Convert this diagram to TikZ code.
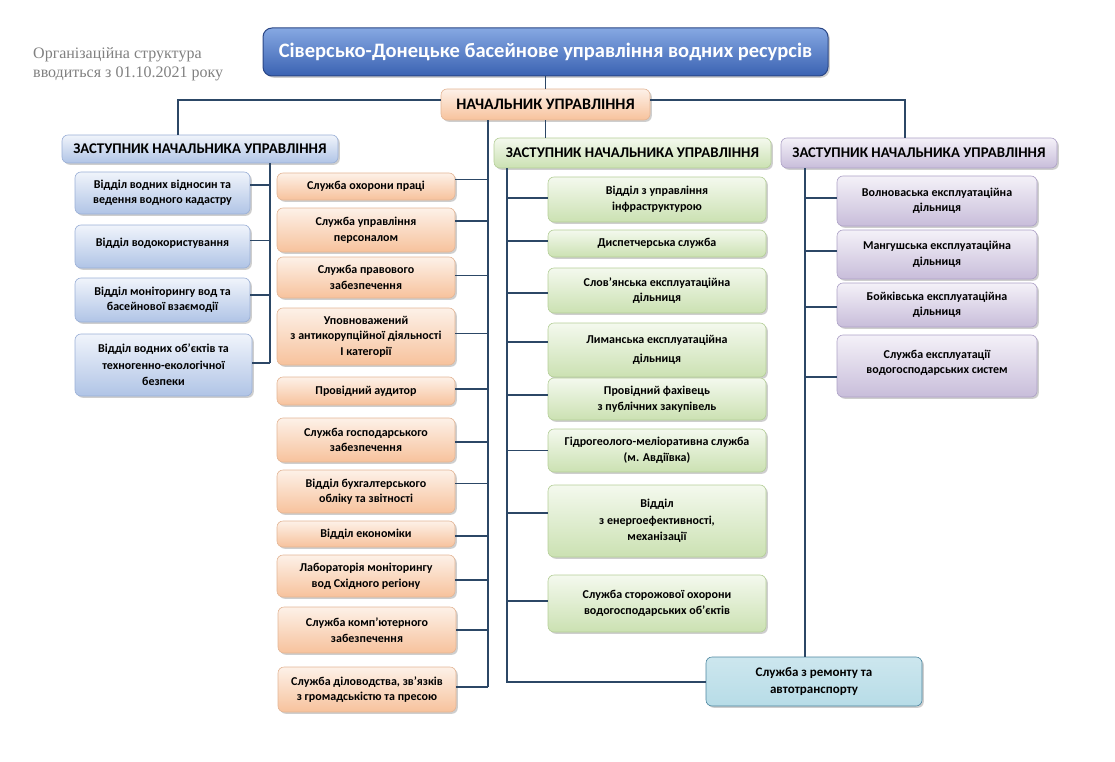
\documentclass[tikz,border=0pt]{standalone}
\usepackage{fontspec}
\setmainfont{Carlito}
\newfontfamily\notefont{Liberation Serif}
\usetikzlibrary{shadows}
\definecolor{conncol}{HTML}{2C4766}
\definecolor{orTop}{HTML}{FDF1E8}
\definecolor{orBot}{HTML}{F7C29C}
\definecolor{orLine}{HTML}{E3B595}
\definecolor{blTop}{HTML}{F0F4FB}
\definecolor{blBot}{HTML}{B0C4E6}
\definecolor{blLine}{HTML}{9AAFD6}
\definecolor{grTop}{HTML}{F4F9EE}
\definecolor{grBot}{HTML}{CBE1B2}
\definecolor{grLine}{HTML}{B4CE97}
\definecolor{puTop}{HTML}{F4F1F8}
\definecolor{puBot}{HTML}{C8BDDA}
\definecolor{puLine}{HTML}{ADA1C6}
\definecolor{tiTop}{HTML}{86A8E2}
\definecolor{tiBot}{HTML}{3A62B2}
\definecolor{tiLine}{HTML}{2A4685}
\definecolor{reFill}{HTML}{B7DCE7}
\definecolor{reLine}{HTML}{4C86A0}
\definecolor{notecol}{HTML}{808080}
\tikzset{
  basebox/.style={rounded corners=6pt, align=center, inner sep=2pt,
    font=\bfseries\fontsize{12}{15.5}\selectfont, text=black, line width=0.6pt,
    drop shadow={shadow xshift=1.8pt, shadow yshift=-1.8pt, opacity=0.35, fill=black!55}},
  obox/.style={basebox, draw=orLine, top color=orTop, bottom color=orBot},
  bbox/.style={basebox, draw=blLine, top color=blTop, bottom color=blBot},
  gbox/.style={basebox, draw=grLine, top color=grTop, bottom color=grBot},
  pbox/.style={basebox, draw=puLine, top color=puTop, bottom color=puBot},
  depbox/.style={font=\bfseries\fontsize{14.8}{17}\selectfont},
  conn/.style={draw=conncol, line width=1.7pt},
}
\begin{document}
\begin{tikzpicture}[x=1pt,y=-1pt]
\useasboundingbox (0,0) rectangle (1115,762);

% note
\node[anchor=north west, align=left, text=notecol, font=\notefont\fontsize{16}{19.5}\selectfont, inner sep=0pt] (note) at (33,47)
  {Організаційна структура\\вводиться з 01.10.2021 року};

% title
\node[basebox, draw=tiLine, line width=1pt, top color=tiTop, bottom color=tiBot, text=white,
  font=\bfseries\fontsize{20.5}{23}\selectfont, minimum width=565pt, minimum height=48pt, rounded corners=9pt]
  (title) at (545.5,52) {Сіверсько-Донецьке басейнове управління водних ресурсів};

% chief
\node[obox, font=\bfseries\fontsize{16}{18}\selectfont, minimum width=209pt, minimum height=31pt] (chief) at (545.5,104.5) {НАЧАЛЬНИК УПРАВЛІННЯ};

% deputies
\node[bbox, depbox, minimum width=276pt, minimum height=28pt] (ld) at (200,149) {ЗАСТУПНИК НАЧАЛЬНИКА УПРАВЛІННЯ};
\node[gbox, depbox, minimum width=277pt, minimum height=30pt] (gd) at (632.5,153) {ЗАСТУПНИК НАЧАЛЬНИКА УПРАВЛІННЯ};
\node[pbox, depbox, minimum width=276pt, minimum height=30pt] (pd) at (919,153) {ЗАСТУПНИК НАЧАЛЬНИКА УПРАВЛІННЯ};

% left (blue) boxes
\node[bbox, minimum width=175pt, minimum height=42pt] (b1) at (162.5,193) {Відділ водних відносин та\\ведення водного кадастру};
\node[bbox, minimum width=175pt, minimum height=43pt, text depth=9pt] (b2) at (162.5,246.5) {Відділ водокористування};
\node[bbox, minimum width=175pt, minimum height=44pt] (b3) at (162.5,300) {Відділ моніторингу вод та\\басейнової взаємодії};
\node[bbox, minimum width=177pt, minimum height=62pt, font=\bfseries\fontsize{12}{16.5}\selectfont] (b4) at (163.5,365) {Відділ водних об’єктів та\\техногенно-екологічної\\безпеки};

% orange boxes
\node[obox, minimum width=178pt, minimum height=27pt] (o1) at (366,186.5) {Служба охорони праці};
\node[obox, minimum width=178pt, minimum height=44pt] (o2) at (366,230) {Служба управління\\персоналом};
\node[obox, minimum width=178pt, minimum height=41pt] (o3) at (366,277.5) {Служба правового\\забезпечення};
\node[obox, minimum width=178pt, minimum height=57pt] (o4) at (366,336.5) {Уповноважений\\з антикорупційної діяльності\\І категорії};
\node[obox, minimum width=178pt, minimum height=28pt] (o5) at (366,391) {Провідний аудитор};
\node[obox, minimum width=178pt, minimum height=44pt] (o6) at (366,440) {Служба господарського\\забезпечення};
\node[obox, minimum width=178pt, minimum height=43pt] (o7) at (366,491.5) {Відділ бухгалтерського\\обліку та звітності};
\node[obox, minimum width=178pt, minimum height=26pt] (o8) at (366,534) {Відділ економіки};
\node[obox, minimum width=178pt, minimum height=42pt] (o9) at (366,576) {Лабораторія моніторингу\\вод Східного регіону};
\node[obox, minimum width=178pt, minimum height=46pt] (o10) at (367,630) {Служба комп’ютерного\\забезпечення};
\node[obox, minimum width=178pt, minimum height=45pt] (o11) at (367,689.5) {Служба діловодства, зв’язків\\з громадськістю та пресою};

% green boxes
\node[gbox, minimum width=218pt, minimum height=45pt] (g1) at (657,199.5) {Відділ з управління\\інфраструктурою};
\node[gbox, minimum width=218pt, minimum height=27pt] (g2) at (657,243.5) {Диспетчерська служба};
\node[gbox, minimum width=218pt, minimum height=45pt] (g3) at (657,290.5) {Слов’янська експлуатаційна\\дільниця};
\node[gbox, minimum width=218pt, minimum height=54pt, font=\bfseries\fontsize{12}{19}\selectfont] (g4) at (657,350) {Лиманська експлуатаційна\\дільниця};
\node[gbox, minimum width=218pt, minimum height=42pt] (g5) at (657,399) {Провідний фахівець\\з публічних закупівель};
\node[gbox, minimum width=218pt, minimum height=43pt] (g6) at (657,450.5) {Гідрогеолого-меліоративна служба\\(м. Авдіївка)};
\node[gbox, minimum width=218pt, minimum height=72pt, font=\bfseries\fontsize{12}{16.5}\selectfont] (g7) at (657,521) {Відділ\\з енергоефективності,\\механізації};
\node[gbox, minimum width=218pt, minimum height=57pt] (g8) at (657,603.5) {Служба сторожової охорони\\водогосподарських об’єктів};

% purple boxes
\node[pbox, minimum width=200pt, minimum height=50pt] (p1) at (937,201) {Волноваська експлуатаційна\\дільниця};
\node[pbox, minimum width=200pt, minimum height=49pt] (p2) at (937,254.5) {Мангушська експлуатаційна\\дільниця};
\node[pbox, minimum width=200pt, minimum height=44pt] (p3) at (937,305) {Бойківська експлуатаційна\\дільниця};
\node[pbox, minimum width=200pt, minimum height=62pt, text depth=8pt] (p4) at (937,366) {Служба експлуатації\\водогосподарських систем};

% repair box
\node[basebox, draw=reLine, top color=reFill!70!white, bottom color=reFill,
  font=\bfseries\fontsize{13}{17}\selectfont, minimum width=216pt, minimum height=49pt] (rep) at (814,681.5)
  {Служба з ремонту та\\автотранспорту};

% vertical line anchors
\coordinate (lv) at (270,363);
\coordinate (ov) at (488,687);
\coordinate (gv) at (507,682);
\coordinate (pv) at (805,0);

% top connectors
\draw[conn] (title) -- (chief);
\draw[conn] ([yshift=4.5pt]chief.west) -| ([xshift=-22pt]ld.north);
\draw[conn] ([yshift=4.5pt]chief.east) -| ([xshift=-14pt]pd.north);
\draw[conn] (chief.south) -- (chief.south |- gd.north);

% left branch
\draw[conn] (lv |- ld.south) -- (lv);
\draw[conn] ([yshift=8pt]b1.east) -- ([yshift=8pt]b1.east -| lv);
\draw[conn] ([yshift=6pt]b2.east) -- ([yshift=6pt]b2.east -| lv);
\draw[conn] ([yshift=5pt]b3.east) -- ([yshift=5pt]b3.east -| lv);
\draw[conn] ([yshift=2pt]b4.east) -- ([yshift=2pt]b4.east -| lv);

% orange branch
\draw[conn] (ov |- chief.south) -- (ov);
\draw[conn] ([yshift=7pt]o1.east) -- ([yshift=7pt]o1.east -| ov);
\draw[conn] ([yshift=9pt]o2.east) -- ([yshift=9pt]o2.east -| ov);
\draw[conn] ([yshift=2pt]o3.east) -- ([yshift=2pt]o3.east -| ov);
\draw[conn] ([yshift=3pt]o4.east) -- ([yshift=3pt]o4.east -| ov);
\draw[conn] ([yshift=2pt]o5.east) -- ([yshift=2pt]o5.east -| ov);
\draw[conn] ([yshift=-2pt]o6.east) -- ([yshift=-2pt]o6.east -| ov);
\draw[conn] ([yshift=8pt]o7.east) -- ([yshift=8pt]o7.east -| ov);
\draw[conn] ([yshift=-2pt]o8.east) -- ([yshift=-2pt]o8.east -| ov);
\draw[conn] ([yshift=-4pt]o9.east) -- ([yshift=-4pt]o9.east -| ov);
\draw[conn] (o10.east) -- (o10.east -| ov);
\draw[conn] ([yshift=2.5pt]o11.east) -- ([yshift=2.5pt]o11.east -| ov);

% green branch
\draw[conn] (gv |- gd.south) -- (gv) -- (gv -| rep.west);
\draw[conn] ([yshift=1.5pt]g1.west) -- ([yshift=1.5pt]g1.west -| gv);
\draw[conn] ([yshift=2.5pt]g2.west) -- ([yshift=2.5pt]g2.west -| gv);
\draw[conn] ([yshift=-2.5pt]g3.west) -- ([yshift=-2.5pt]g3.west -| gv);
\draw[conn] ([yshift=8pt]g4.west) -- ([yshift=8pt]g4.west -| gv);
\draw[conn] ([yshift=4pt]g5.west) -- ([yshift=4pt]g5.west -| gv);
\draw[conn] (g6.west) -- (g6.west -| gv);
\draw[conn] ([yshift=8pt]g7.west) -- ([yshift=8pt]g7.west -| gv);
\draw[conn] ([yshift=2.5pt]g8.west) -- ([yshift=2.5pt]g8.west -| gv);

% purple branch
\draw[conn] (pv |- pd.south) -- (pv |- rep.north);
\draw[conn] ([yshift=3pt]p1.west) -- ([yshift=3pt]p1.west -| pv);
\draw[conn] ([yshift=3.5pt]p2.west) -- ([yshift=3.5pt]p2.west -| pv);
\draw[conn] ([yshift=-2pt]p3.west) -- ([yshift=-2pt]p3.west -| pv);
\draw[conn] ([yshift=-11pt]p4.west) -- ([yshift=-11pt]p4.west -| pv);
\end{tikzpicture}
\end{document}
